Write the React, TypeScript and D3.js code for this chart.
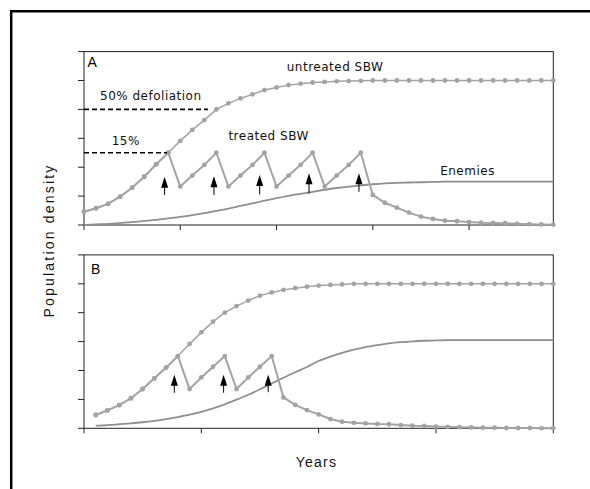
import * as d3 from 'd3';

// ---- data (population density, 0..6 units; x = time step) ----
const untreatedA = [
  0.46, 0.58, 0.73, 0.98, 1.29, 1.67, 2.1, 2.5, 2.91, 3.29,
  3.63, 4.0, 4.21, 4.38, 4.52, 4.67, 4.76, 4.84, 4.89, 4.93,
  4.95, 4.97, 4.98, 4.99, 5.0, 5.0, 5.0, 5.0, 5.0, 5.0,
  5.0, 5.0, 5.0, 5.0, 5.0, 5.0, 5.0, 5.0, 5.0, 5.0,
];
const treatedA = [
  0.46, 0.58, 0.73, 0.98, 1.29, 1.67, 2.1, 2.5, 1.33, 1.71,
  2.08, 2.5, 1.33, 1.71, 2.08, 2.5, 1.33, 1.71, 2.08, 2.5,
  1.33, 1.71, 2.08, 2.5, 1.04, 0.77, 0.6, 0.43, 0.29, 0.21,
  0.15, 0.13, 0.1, 0.08, 0.07, 0.06, 0.04, 0.03, 0.02, 0.01,
];
const enemiesA = [
  0.0, 0.02, 0.04, 0.07, 0.1, 0.14, 0.18, 0.23, 0.28, 0.34,
  0.41, 0.49, 0.57, 0.66, 0.75, 0.84, 0.93, 1.01, 1.08, 1.15,
  1.22, 1.28, 1.33, 1.37, 1.41, 1.44, 1.46, 1.47, 1.48, 1.49,
  1.5, 1.5, 1.5, 1.5, 1.5, 1.5, 1.5, 1.5, 1.5, 1.5,
];
const arrowXA = [6.7, 10.8, 14.6, 18.7, 22.85];
const arrowTipA = [1.67, 1.69, 1.73, 1.79, 1.79];
const arrowBaseA = [1.04, 1.04, 1.06, 1.09, 1.15];

// panel B starts at step 1
const untreatedB = [
  0.46, 0.62, 0.8, 1.04, 1.36, 1.73, 2.1, 2.5, 2.92, 3.32,
  3.69, 4.0, 4.23, 4.42, 4.59, 4.7, 4.79, 4.85, 4.9, 4.94,
  4.96, 4.98, 5.0, 5.0, 5.0, 5.0, 5.0, 5.0, 5.0, 5.0,
  5.0, 5.0, 5.0, 5.0, 5.0, 5.0, 5.0, 5.0, 5.0, 5.0,
];
const treatedB = [
  0.46, 0.62, 0.8, 1.04, 1.36, 1.73, 2.1, 2.5, 1.36, 1.76,
  2.13, 2.5, 1.36, 1.76, 2.13, 2.5, 1.07, 0.81, 0.63, 0.48,
  0.32, 0.23, 0.19, 0.17, 0.15, 0.14, 0.11, 0.09, 0.08, 0.06,
  0.05, 0.04, 0.03, 0.02, 0.02, 0.01, 0.01, 0.01, 0.0, 0.0,
];
const enemiesB = [
  0.09, 0.11, 0.14, 0.17, 0.21, 0.26, 0.32, 0.39, 0.47, 0.57,
  0.69, 0.83, 0.99, 1.16, 1.35, 1.55, 1.75, 1.94, 2.12, 2.33,
  2.48, 2.61, 2.72, 2.81, 2.88, 2.94, 2.98, 3.01, 3.03, 3.04,
  3.05, 3.05, 3.05, 3.05, 3.05, 3.05, 3.05, 3.05, 3.05, 3.05,
];
const arrowXB = [7.7, 11.9, 15.7];
const arrowTipB = [1.85, 1.85, 1.85];
const arrowBaseB = [1.23, 1.23, 1.25];

const yTicks = [0, 1, 2, 3, 4, 5, 6];
const xTicksA = [0, 8, 16, 24, 32];
const xTicksB = [0, 10, 20, 30, 40];

// dashed thresholds in panel A
const thresholds = [
  { level: 4.0, xEnd: 10.3 },
  { level: 2.5, xEnd: 6.9 },
];

const labelsA = [
  { text: '50% defoliation', x: 1.33, y: 4.33 },
  { text: '15%', x: 2.3, y: 2.77 },
  { text: 'treated SBW', x: 12.0, y: 2.94 },
  { text: 'untreated SBW', x: 16.85, y: 5.33 },
  { text: 'Enemies', x: 29.6, y: 1.73 },
];

const LEFT = 84;
const RIGHT = 553.3;
const GREY = '#a3a3a3';
const AXIS = '#222';
const LABEL_FONT = '"DejaVu Sans", sans-serif';
const TITLE_FONT = '"Liberation Sans", Arial, sans-serif';

type PanelProps = {
  top: number;
  bottom: number;
  maxX: number;
  start: number;
  xTicks: number[];
  untreated: number[];
  treated: number[];
  enemies: number[];
  arrowX: number[];
  arrowTip: number[];
  arrowBase: number[];
  letter: string;
  letterPos: [number, number];
  children?: (x: d3.ScaleLinear<number, number>, y: d3.ScaleLinear<number, number>) => any;
};

function Panel(p: PanelProps) {
  const x = d3.scaleLinear().domain([0, p.maxX]).range([LEFT, RIGHT]);
  const y = d3.scaleLinear().domain([0, 6]).range([p.bottom, p.top]);
  const pts = (vals: number[]) => vals.map((v, i) => [i + p.start, v] as [number, number]);
  const line = d3.line<[number, number]>().x(d => x(d[0])).y(d => y(d[1]));
  const smooth = d3.line<[number, number]>().x(d => x(d[0])).y(d => y(d[1])).curve(d3.curveMonotoneX);

  return (
    <g>
      {/* frame */}
      <rect x={LEFT} y={p.top} width={RIGHT - LEFT} height={p.bottom - p.top} fill="none" stroke={AXIS} strokeWidth={1} />
      {yTicks.map(t => (
        <line key={'y' + t} x1={LEFT - 6} x2={LEFT} y1={y(t)} y2={y(t)} stroke={AXIS} strokeWidth={1} />
      ))}
      {p.xTicks.map(t => (
        <line key={'x' + t} x1={x(t)} x2={x(t)} y1={p.bottom} y2={p.bottom + 5} stroke={AXIS} strokeWidth={1} />
      ))}

      {/* enemies */}
      <path d={smooth(pts(p.enemies)) || ''} fill="none" stroke="#8f8f8f" strokeWidth={1.8} />

      {/* SBW series */}
      <path d={line(pts(p.untreated)) || ''} fill="none" stroke={GREY} strokeWidth={1.5} />
      <path d={line(pts(p.treated)) || ''} fill="none" stroke={GREY} strokeWidth={2} />
      {pts(p.untreated).map((d, i) => (
        <circle key={'u' + i} cx={x(d[0])} cy={y(d[1])} r={2.4} fill={GREY} />
      ))}
      {pts(p.treated).map((d, i) => (
        <circle key={'t' + i} cx={x(d[0])} cy={y(d[1])} r={2.4} fill={GREY} />
      ))}

      {/* treatment arrows */}
      {p.arrowX.map((ax, i) => {
        const cx = x(ax);
        const tip = y(p.arrowTip[i]);
        const base = y(p.arrowBase[i]);
        return (
          <g key={'a' + i}>
            <line x1={cx} x2={cx} y1={tip + 6} y2={base} stroke="#000" strokeWidth={1} />
            <path d={`M${cx},${tip}L${cx - 3.5},${tip + 11}L${cx + 3.5},${tip + 11}Z`} fill="#000" />
          </g>
        );
      })}

      <text x={x(p.letterPos[0])} y={y(p.letterPos[1])} fontFamily={TITLE_FONT}
        fontSize={14} fill="#000">{p.letter}</text>
      {p.children && p.children(x, y)}
    </g>
  );
}

export default function App() {
  return (
    <svg width={590} height={489} style={{ position: 'absolute', left: 0, top: 0, background: '#fff' }}>
      <rect x={0} y={0} width={590} height={489} fill="#fff" />
      <path d="M11.2,489V11.2H590" fill="none" stroke="#000" strokeWidth={2.5} />

      <Panel top={51.6} bottom={225} maxX={39} start={0} xTicks={xTicksA}
        untreated={untreatedA} treated={treatedA} enemies={enemiesA}
        arrowX={arrowXA} arrowTip={arrowTipA} arrowBase={arrowBaseA}
        letter="A" letterPos={[0.3, 5.45]}>
        {(x, y) => (
          <g>
            {thresholds.map((t, i) => (
              <line key={'th' + i} x1={x(0)} x2={x(t.xEnd)} y1={y(t.level)} y2={y(t.level)}
                stroke="#000" strokeWidth={1.6} strokeDasharray="5,3" />
            ))}
            {labelsA.map(l => (
              <text key={l.text} x={x(l.x)} y={y(l.y)} fontFamily={LABEL_FONT} fontSize={12}
                letterSpacing={0.5} fill="#111">{l.text}</text>
            ))}
          </g>
        )}
      </Panel>

      <Panel top={254.9} bottom={428.3} maxX={40} start={1} xTicks={xTicksB}
        untreated={untreatedB} treated={treatedB} enemies={enemiesB}
        arrowX={arrowXB} arrowTip={arrowTipB} arrowBase={arrowBaseB}
        letter="B" letterPos={[0.6, 5.35]} />

      <text transform="translate(54,240.5) rotate(-90)" textAnchor="middle"
        fontFamily={TITLE_FONT} fontSize={14} letterSpacing={2.2} fill="#111">
        Population density
      </text>
      <text x={316.5} y={466.5} textAnchor="middle" fontFamily={TITLE_FONT}
        fontSize={14} letterSpacing={1.2} fill="#111">Years</text>
    </svg>
  );
}
